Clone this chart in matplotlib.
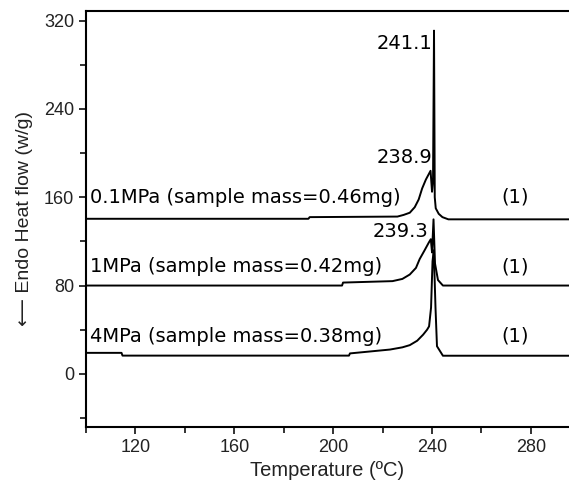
import numpy as np
import matplotlib.pyplot as plt
from matplotlib.ticker import MultipleLocator

# DSC traces (temperature in C, heat flow in W/g, offset)
t_01 = [100, 190, 190.5, 226, 228.5, 231, 233, 234.6, 236, 237.5, 239.4, 240.0, 240.4, 240.8,
        241.1, 241.5, 242.7, 244.2, 246.6, 297]
hf_01 = [140.5, 140.5, 142, 142.5, 144, 146, 151, 158, 168, 176, 184, 165, 175, 311,
         160, 150, 145, 142, 140, 140]

t_1 = [100, 203.6, 204, 224, 228, 231, 233.5, 235, 237, 238.7, 239.5, 240.0, 240.6, 241.2,
       242.4, 244.4, 297]
hf_1 = [80, 80, 82.7, 84, 86, 90, 96, 104, 112, 119, 122, 110, 140, 100, 85, 80, 80]

t_4 = [100, 114.4, 114.8, 206.4, 206.8, 223, 228, 231, 234, 236.4, 238, 238.8, 239.6, 240.2,
       240.7, 241.4, 242.0, 244.4, 297]
hf_4 = [19, 19, 16.5, 16.5, 18.5, 22, 24, 26, 30, 35.5, 40, 43, 60, 102,
        112, 60, 25, 16.4, 16.4]

series_labels = ['0.1MPa (sample mass=0.46mg)', '1MPa (sample mass=0.42mg)', '4MPa (sample mass=0.38mg)']
label_y = [160, 97, 34]
peak_labels = ['241.1', '238.9', '239.3']
peak_x = [240.0, 240.3, 238.6]
peak_y = [299, 196, 129]

x_ticks = [120, 160, 200, 240, 280]
y_ticks = [0, 80, 160, 240, 320]

plt.rcParams['font.family'] = ['Liberation Sans', 'DejaVu Sans']

fig = plt.figure(figsize=(5.69, 4.90), dpi=100)
ax = fig.add_axes([0.151, 0.129, 0.849, 0.849])

for t, hf in [(t_01, hf_01), (t_1, hf_1), (t_4, hf_4)]:
    ax.plot(t, hf, color='black', lw=1.4)

for text, y in zip(series_labels, label_y):
    ax.text(101.5, y, text, fontsize=14, ha='left', va='center', family='DejaVu Sans')
    ax.text(273.5, y, '(1)', fontsize=14, ha='center', va='center', family='DejaVu Sans')

for text, x, y in zip(peak_labels, peak_x, peak_y):
    ax.text(x, y, text, fontsize=14, ha='right', va='center', family='DejaVu Sans')

ax.set_xlim(100, 295.4)
ax.set_ylim(-48, 329)
ax.set_xticks(x_ticks)
ax.set_yticks(y_ticks)
ax.xaxis.set_minor_locator(MultipleLocator(20))
ax.yaxis.set_minor_locator(MultipleLocator(40))
ax.tick_params(which='both', direction='out', width=1.3, labelsize=13, colors='#222222')
ax.tick_params(which='major', length=5)
ax.tick_params(which='minor', length=4)
ax.spines['right'].set_visible(False)
for s in ['left', 'bottom', 'top']:
    ax.spines[s].set_linewidth(1.5)

ax.set_xlabel('Temperature (ºC)', fontsize=14.5, color='#222222')
ax.set_ylabel('⟵ Endo Heat flow (w/g)', fontsize=14, color='#222222', labelpad=8)

fig.savefig('out.png', dpi=100)
